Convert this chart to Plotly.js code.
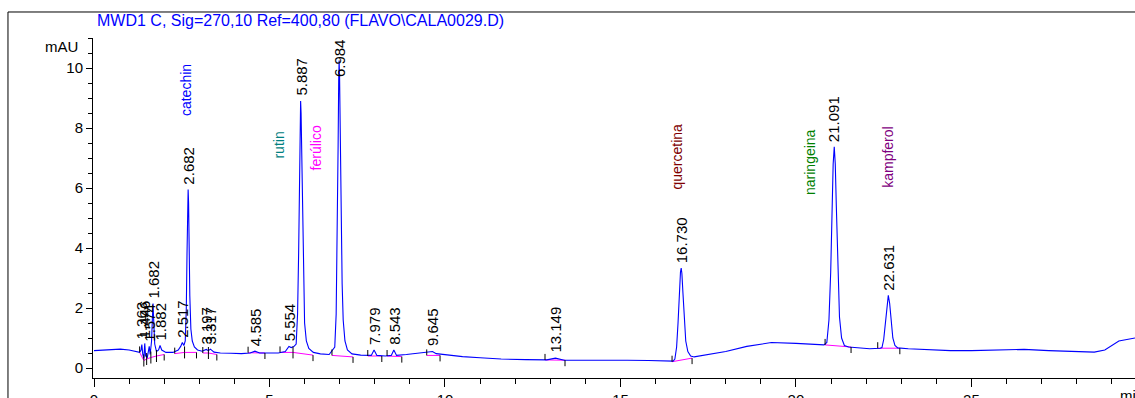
<!DOCTYPE html>
<html>
<head>
<meta charset="utf-8">
<script src="https://cdn.plot.ly/plotly-3.0.1.min.js"></script>
<style>html,body{margin:0;padding:0;background:#fff;}#chart{width:1135px;height:398px;}</style>
</head>
<body>
<div id="chart"></div>
<script>
// ---- Chromatogram signal (time in min, absorbance in mAU) ----
const timeMin = [
  0, 0.3, 0.75, 1.0, 1.2, 1.30, 1.34, 1.363, 1.39, 1.42, 1.446, 1.47, 1.52, 1.55, 1.574, 1.60, 1.64, 1.665, 1.682, 1.70, 1.73, 1.78, 1.84, 1.882, 1.93,
  2.05, 2.25, 2.40, 2.47, 2.517, 2.56, 2.60, 2.63, 2.65, 2.67, 2.682, 2.695, 2.71, 2.73, 2.76, 2.80, 2.86, 2.95, 3.08, 3.197, 3.26, 3.317, 3.42, 3.6,
  3.9, 4.2, 4.45, 4.585, 4.72, 4.95, 5.25, 5.45, 5.554, 5.62, 5.70, 5.76, 5.80, 5.83, 5.855, 5.875, 5.887, 5.90, 5.92, 5.945, 5.97, 6.00, 6.05, 6.12, 6.25, 6.45, 6.70,
  6.86, 6.90, 6.93, 6.955, 6.972, 6.984, 6.997, 7.015, 7.04, 7.07, 7.10, 7.15, 7.22, 7.35, 7.6, 7.9, 7.979, 8.06, 8.3, 8.47, 8.543, 8.62, 8.9, 9.3, 9.5, 9.645, 9.75,
  10.0, 10.5, 11.0, 11.6, 12.3, 12.9, 13.149, 13.4, 14.0, 14.6, 15.2, 15.8, 16.3, 16.5, 16.55, 16.60, 16.64, 16.68, 16.71, 16.73, 16.75, 16.78, 16.82, 16.86, 16.92, 17.0, 17.1,
  17.5, 18.0, 18.6, 19.3, 20.0, 20.5, 20.8, 20.88, 20.94, 20.99, 21.03, 21.06, 21.091, 21.12, 21.15, 21.19, 21.24, 21.30, 21.38, 21.5, 21.8,
  22.1, 22.4, 22.45, 22.50, 22.55, 22.59, 22.631, 22.67, 22.71, 22.76, 22.82, 22.9, 23.2, 23.8, 24.4, 25.0, 25.6, 26.5, 27.2, 27.8, 28.5, 28.8, 29.2, 29.66
];
const absMAU = [
  0.58, 0.6, 0.63, 0.6, 0.56, 0.52, 0.6, 0.78, 0.45, 0.32, 0.82, 0.4, 0.36, 0.55, 0.72, 0.45, 0.9, 1.7, 2.15, 1.6, 0.8, 0.55, 0.6, 0.75, 0.6,
  0.52, 0.52, 0.6, 0.72, 0.85, 0.75, 0.9, 2.0, 3.8, 5.5, 5.95, 5.5, 4.0, 2.4, 1.3, 0.9, 0.7, 0.6, 0.56, 0.62, 0.58, 0.63, 0.53, 0.5,
  0.49, 0.48, 0.5, 0.56, 0.5, 0.49, 0.5, 0.55, 0.72, 0.68, 0.72, 0.8, 1.8, 3.8, 6.6, 8.5, 8.9, 8.5, 6.8, 4.4, 2.6, 1.5, 0.9, 0.65, 0.52, 0.47, 0.45,
  0.7, 1.8, 4.2, 7.4, 9.6, 10.25, 9.7, 7.7, 5.0, 2.8, 1.6, 0.9, 0.6, 0.47, 0.43, 0.42, 0.6, 0.42, 0.4, 0.42, 0.6, 0.42, 0.45, 0.5, 0.53, 0.55, 0.48,
  0.44, 0.38, 0.34, 0.3, 0.28, 0.27, 0.33, 0.26, 0.26, 0.27, 0.26, 0.25, 0.23, 0.23, 0.3, 0.7, 1.5, 2.7, 3.2, 3.33, 3.15, 2.5, 1.5, 0.9, 0.55, 0.4, 0.37,
  0.45, 0.55, 0.72, 0.85, 0.82, 0.78, 0.77, 0.85, 1.6, 3.2, 5.4, 6.8, 7.37, 6.8, 5.4, 3.3, 1.7, 1.0, 0.75, 0.7, 0.66,
  0.64, 0.66, 0.68, 0.95, 1.5, 2.1, 2.42, 2.15, 1.5, 1.0, 0.75, 0.67, 0.64, 0.6, 0.58, 0.58, 0.6, 0.62, 0.58, 0.56, 0.53, 0.6, 0.9, 1.0
];

// ---- Integrated peaks ----
const peakRT     = [1.363, 1.446, 1.574, 1.682, 1.882, 2.517, 2.682, 3.197, 3.317, 4.585, 5.554, 5.887, 6.984, 7.979, 8.543, 9.645, 13.149, 16.730, 21.091, 22.631];
const peakHeight = [0.78, 0.82, 0.72, 2.15, 0.75, 0.85, 5.95, 0.62, 0.63, 0.56, 0.72, 8.9, 10.25, 0.6, 0.6, 0.55, 0.33, 3.33, 7.37, 2.42];

// ---- Integration baselines (start time, start level, end time, end level) ----
const baseStartT = [1.30, 1.42, 1.50, 1.62, 1.78, 2.30, 2.58, 3.10, 3.26, 4.39, 5.30, 5.67, 6.78, 7.80, 8.35, 9.48, 12.85, 16.47, 20.83, 22.33];
const baseStartY = [0.52, 0.25, 0.30, 0.35, 0.40, 0.48, 0.52, 0.50, 0.50, 0.51, 0.52, 0.52, 0.42, 0.40, 0.40, 0.42, 0.27, 0.21, 0.77, 0.66];
const baseEndT   = [1.42, 1.50, 1.62, 1.78, 2.00, 2.58, 2.92, 3.26, 3.50, 4.87, 5.67, 6.24, 7.38, 8.20, 8.77, 9.86, 13.42, 17.04, 21.57, 22.96];
const baseEndY   = [0.25, 0.30, 0.35, 0.40, 0.45, 0.52, 0.52, 0.50, 0.45, 0.50, 0.52, 0.43, 0.37, 0.40, 0.38, 0.42, 0.26, 0.33, 0.70, 0.66];

// ---- Compound identifications ----
const compoundNames  = ["catechin", "rutin", "ferúlico", "quercetina", "naringeina", "kampferol"];
const compoundLabelT = [2.62, 5.27, 6.32, 16.6, 20.4, 22.6];
const compoundLabelY = [8.33, 6.93, 6.53, 5.87, 5.7, 5.93];
const compoundColors = ["#0000ff", "#008080", "#ff00ff", "#800000", "#008000", "#800080"];

const FONT = "Liberation Sans, Arial, sans-serif";
const Y_RANGE = [-0.333, 11.0];
const LABEL_SPAN = 1.55; // approx. height of a rotated retention-time label, in mAU

// baseline segments as one line trace with gaps
const bx = [], by = [];
for (let i = 0; i < baseStartT.length; i++) {
  bx.push(baseStartT[i], baseEndT[i], null);
  by.push(baseStartY[i], baseEndY[i], null);
}

const traces = [
  {x: bx, y: by, mode: "lines", line: {color: "#ff00ff", width: 1}, hoverinfo: "skip", connectgaps: false},
  {x: timeMin, y: absMAU, mode: "lines", line: {color: "#0000ff", width: 1.1}},
  {x: baseStartT, y: baseStartY, mode: "markers", marker: {size: 0, opacity: 0},
   error_y: {type: "data", symmetric: false, array: baseStartT.map(() => 0.2), arrayminus: baseStartT.map(() => 0), width: 0, color: "#000", thickness: 1}},
  {x: baseEndT, y: baseEndY, mode: "markers", marker: {size: 0, opacity: 0},
   error_y: {type: "data", symmetric: false, array: baseEndT.map(() => 0), arrayminus: baseEndT.map(() => 0.2), width: 0, color: "#000", thickness: 1}}
];

const annotations = [];
peakRT.forEach((t, i) => {
  const fits = peakHeight[i] + LABEL_SPAN <= Y_RANGE[1];
  annotations.push({x: t, y: fits ? peakHeight[i] : Y_RANGE[1], xref: "x", yref: "y", text: t.toFixed(3), showarrow: false,
    textangle: -90, xanchor: "center", yanchor: fits ? "bottom" : "top", yshift: fits ? 3 : 1,
    font: {family: FONT, size: 15, color: "#000"}});
});
compoundNames.forEach((n, i) => {
  annotations.push({x: compoundLabelT[i], y: compoundLabelY[i], xref: "x", yref: "y", text: n, showarrow: false,
    textangle: -90, xanchor: "center", yanchor: "bottom", font: {family: FONT, size: 14, color: compoundColors[i]}});
});
annotations.push({xref: "paper", yref: "paper", x: -0.012, y: 0.975, text: "mAU", showarrow: false,
  xanchor: "right", yanchor: "middle", font: {family: FONT, size: 15, color: "#000"}});
annotations.push({xref: "paper", yref: "paper", x: 0.9837, y: -0.022, text: "min", showarrow: false,
  xanchor: "left", yanchor: "top", font: {family: FONT, size: 15, color: "#000"}});

const layout = {
  width: 1135, height: 398,
  margin: {l: 93, r: 0, t: 38, b: 20, pad: 0},
  paper_bgcolor: "#fff", plot_bgcolor: "#fff",
  showlegend: false,
  title: {text: "MWD1 C, Sig=270,10 Ref=400,80 (FLAVO\\CALA0029.D)", xref: "container", yref: "container",
    x: 97/1135, xanchor: "left", y: 1 - 20/398, yanchor: "middle", font: {family: FONT, size: 16, color: "#0000ff"}},
  xaxis: {range: [-0.0285, 29.66], showline: true, linecolor: "#000", linewidth: 1, ticks: "outside", ticklen: 8,
    tickcolor: "#000", tick0: 0, dtick: 5, showgrid: false, zeroline: false,
    minor: {dtick: 1, tick0: 0, ticks: "outside", ticklen: 5, tickcolor: "#000"},
    tickfont: {family: FONT, size: 15, color: "#000"}},
  yaxis: {range: Y_RANGE, showline: true, linecolor: "#000", linewidth: 1, ticks: "outside", ticklen: 6,
    tickcolor: "#000", tick0: 0, dtick: 2, showgrid: false, zeroline: false,
    minor: {dtick: 0.5, tick0: 0, ticks: "outside", ticklen: 4, tickcolor: "#000"},
    tickfont: {family: FONT, size: 15, color: "#000"}},
  annotations: annotations,
  shapes: [{type: "rect", xref: "paper", yref: "paper", x0: -0.0816, x1: 1.2, y0: -0.3, y1: 1.0765,
    line: {color: "#000", width: 1}, fillcolor: "rgba(0,0,0,0)", layer: "below"}]
};

Plotly.newPlot("chart", traces, layout, {staticPlot: true, displayModeBar: false});
</script>
</body>
</html>
